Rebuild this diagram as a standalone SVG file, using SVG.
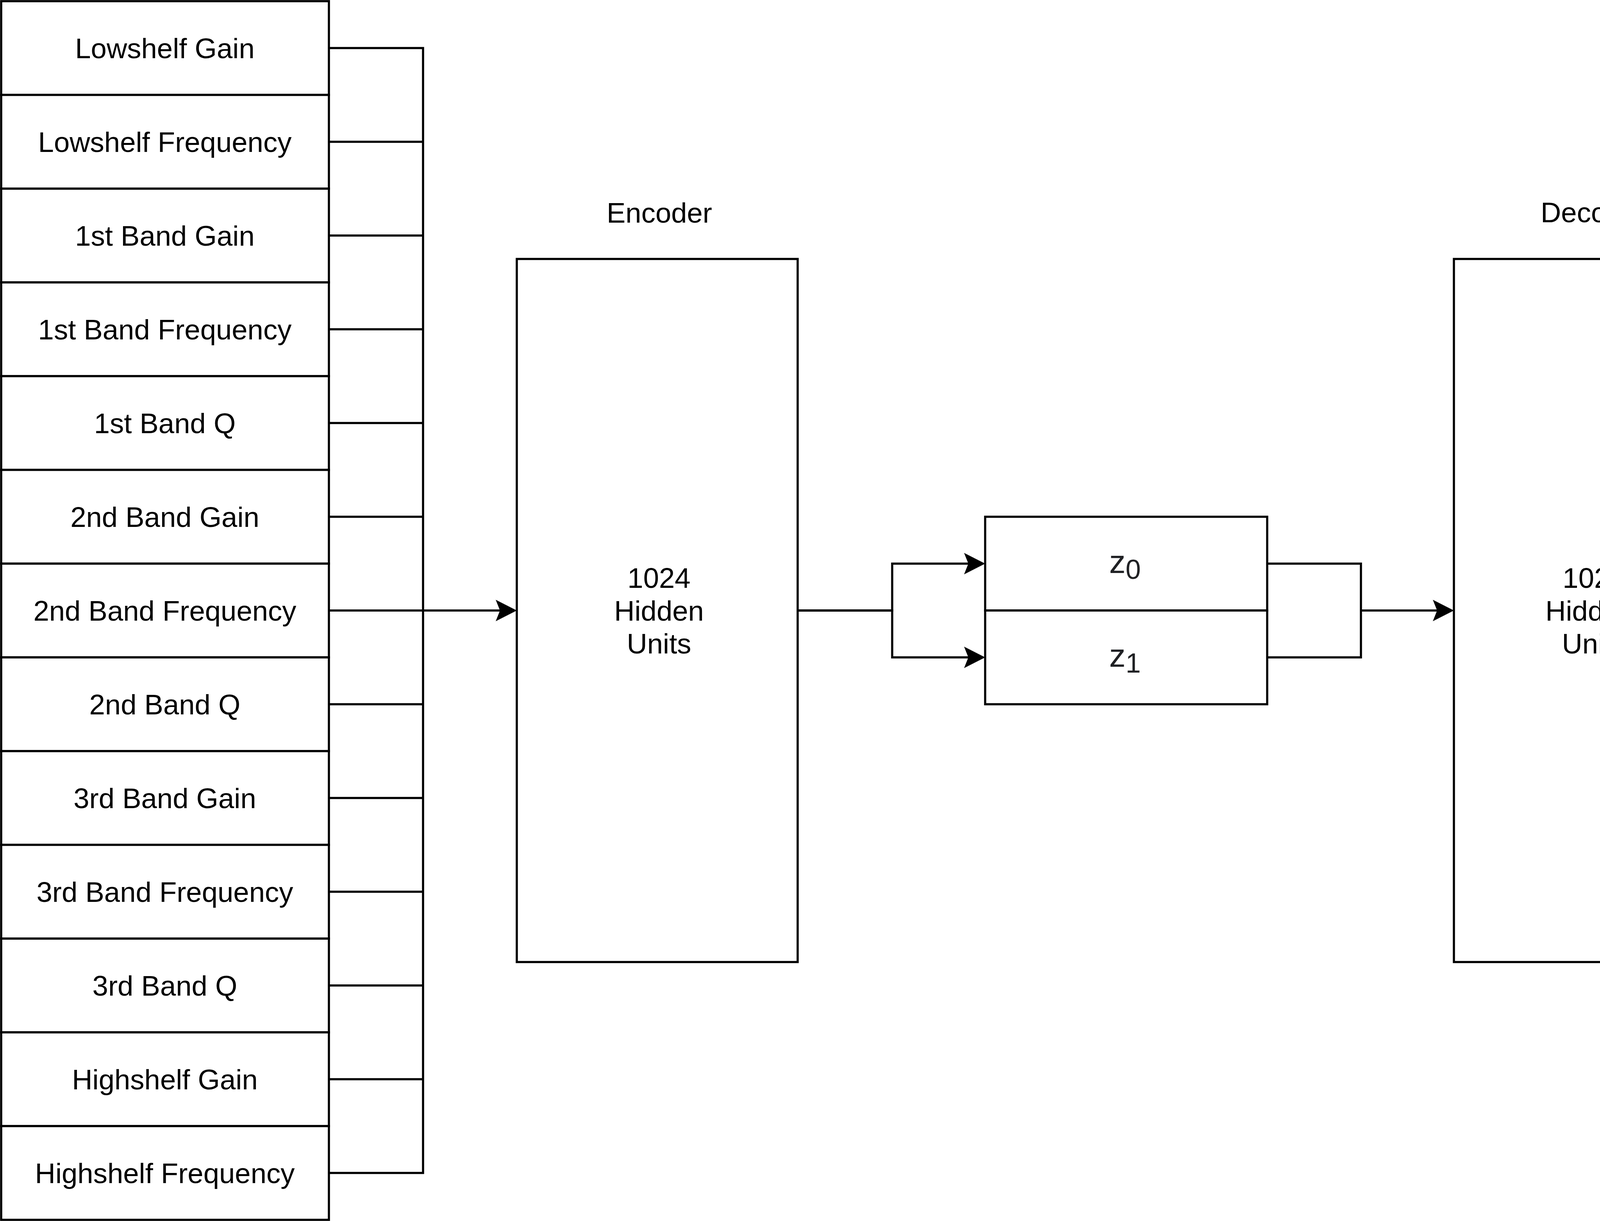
<svg xmlns="http://www.w3.org/2000/svg" width="5766" height="3126" viewBox="0 0 5766 3126">
<style>
.box{fill:#ffffff;stroke:#000000;stroke-width:5.5}
.lbl{font-family:"Liberation Sans",Arial,Helvetica,sans-serif;font-size:72.5px;fill:#000000;text-anchor:middle}
.z{font-family:"Liberation Sans",Arial,Helvetica,sans-serif;font-size:84px;fill:#202124;text-anchor:middle}
.edge{fill:none;stroke:#000000;stroke-width:5.5;stroke-linejoin:miter;marker-end:url(#arr)}
.stub{fill:none;stroke:#000000;stroke-width:5.5;stroke-linejoin:miter}
</style>
<defs>
<marker id="arr" markerUnits="userSpaceOnUse" viewBox="-12 -30 60 60" markerWidth="60" markerHeight="60" refX="0" refY="0" orient="auto" overflow="visible">
<path d="M43,0 L-11,-27.5 L0,0 L-11,27.5 Z" fill="#000000" stroke="none"/>
</marker>
</defs>
<rect x="0" y="0" width="5766" height="3126" fill="#ffffff"/>

<g id="connectors">
<path class="stub" d="M842,123 H1083 V1563"/>
<path class="stub" d="M842,363 H1083"/>
<path class="stub" d="M842,603 H1083"/>
<path class="stub" d="M842,843 H1083"/>
<path class="stub" d="M842,1083 H1083"/>
<path class="stub" d="M842,1323 H1083"/>
<path class="stub" d="M842,1803 H1083"/>
<path class="stub" d="M842,2043 H1083"/>
<path class="stub" d="M842,2283 H1083"/>
<path class="stub" d="M842,2523 H1083"/>
<path class="stub" d="M842,2763 H1083"/>
<path class="stub" d="M842,3003 H1083 V1563"/>
<path class="edge" d="M842,1563 H1280"/>

<path class="edge" d="M2042,1563 H2284 V1443 H2479"/>
<path class="edge" d="M2042,1563 H2284 V1683 H2479"/>

<path class="stub" d="M3244,1443 H3484 V1683 H3244"/>
<path class="edge" d="M3484,1563 H3679"/>

<path class="stub" d="M4443,1563 H4683"/>
<path class="stub" d="M4683,123 V3003"/>
<path class="edge" d="M4683,123 H4879"/>
<path class="edge" d="M4683,363 H4879"/>
<path class="edge" d="M4683,603 H4879"/>
<path class="edge" d="M4683,843 H4879"/>
<path class="edge" d="M4683,1083 H4879"/>
<path class="edge" d="M4683,1323 H4879"/>
<path class="edge" d="M4683,1563 H4879"/>
<path class="edge" d="M4683,1803 H4879"/>
<path class="edge" d="M4683,2043 H4879"/>
<path class="edge" d="M4683,2283 H4879"/>
<path class="edge" d="M4683,2523 H4879"/>
<path class="edge" d="M4683,2763 H4879"/>
<path class="edge" d="M4683,3003 H4879"/>
</g>

<g id="inputs">
<g id="in-lowshelf-gain"><rect class="box" x="3" y="3" width="839" height="240"/><text class="lbl" x="422" y="149">Lowshelf Gain</text></g>
<g id="in-lowshelf-frequency"><rect class="box" x="3" y="243" width="839" height="240"/><text class="lbl" x="422" y="389">Lowshelf Frequency</text></g>
<g id="in-1st-band-gain"><rect class="box" x="3" y="483" width="839" height="240"/><text class="lbl" x="422" y="629">1st Band Gain</text></g>
<g id="in-1st-band-frequency"><rect class="box" x="3" y="723" width="839" height="240"/><text class="lbl" x="422" y="869">1st Band Frequency</text></g>
<g id="in-1st-band-q"><rect class="box" x="3" y="963" width="839" height="240"/><text class="lbl" x="422" y="1109">1st Band Q</text></g>
<g id="in-2nd-band-gain"><rect class="box" x="3" y="1203" width="839" height="240"/><text class="lbl" x="422" y="1349">2nd Band Gain</text></g>
<g id="in-2nd-band-frequency"><rect class="box" x="3" y="1443" width="839" height="240"/><text class="lbl" x="422" y="1589">2nd Band Frequency</text></g>
<g id="in-2nd-band-q"><rect class="box" x="3" y="1683" width="839" height="240"/><text class="lbl" x="422" y="1829">2nd Band Q</text></g>
<g id="in-3rd-band-gain"><rect class="box" x="3" y="1923" width="839" height="240"/><text class="lbl" x="422" y="2069">3rd Band Gain</text></g>
<g id="in-3rd-band-frequency"><rect class="box" x="3" y="2163" width="839" height="240"/><text class="lbl" x="422" y="2309">3rd Band Frequency</text></g>
<g id="in-3rd-band-q"><rect class="box" x="3" y="2403" width="839" height="240"/><text class="lbl" x="422" y="2549">3rd Band Q</text></g>
<g id="in-highshelf-gain"><rect class="box" x="3" y="2643" width="839" height="240"/><text class="lbl" x="422" y="2789">Highshelf Gain</text></g>
<g id="in-highshelf-frequency"><rect class="box" x="3" y="2883" width="839" height="240"/><text class="lbl" x="422" y="3029">Highshelf Frequency</text></g>
</g>

<g id="encoder">
<text class="lbl" x="1688" y="570">Encoder</text>
<rect class="box" x="1323" y="663" width="719" height="1800"/>
<text class="lbl" x="1687" y="1505">1024</text>
<text class="lbl" x="1687" y="1589">Hidden</text>
<text class="lbl" x="1687" y="1673">Units</text>
</g>

<g id="latent">
<g id="z0"><rect class="box" x="2522" y="1323" width="722" height="240"/><text class="z" x="2880" y="1467">z<tspan font-size="70" dy="15">0</tspan></text></g>
<g id="z1"><rect class="box" x="2522" y="1563" width="722" height="240"/><text class="z" x="2880" y="1707">z<tspan font-size="70" dy="15">1</tspan></text></g>
</g>

<g id="decoder">
<text class="lbl" x="4081" y="569">Decoder</text>
<rect class="box" x="3722" y="663" width="721" height="1800"/>
<text class="lbl" x="4081" y="1505">1024</text>
<text class="lbl" x="4071" y="1589">Hidden</text>
<text class="lbl" x="4081" y="1673">Units</text>
</g>

<g id="outputs">
<g id="out-lowshelf-gain"><rect class="box" x="4922" y="3" width="840" height="240"/><text class="lbl" x="5342" y="149">Lowshelf Gain</text></g>
<g id="out-lowshelf-frequency"><rect class="box" x="4922" y="243" width="840" height="240"/><text class="lbl" x="5342" y="389">Lowshelf Frequency</text></g>
<g id="out-1st-band-gain"><rect class="box" x="4922" y="483" width="840" height="240"/><text class="lbl" x="5342" y="629">1st Band Gain</text></g>
<g id="out-1st-band-frequency"><rect class="box" x="4922" y="723" width="840" height="240"/><text class="lbl" x="5342" y="869">1st Band Frequency</text></g>
<g id="out-1st-band-q"><rect class="box" x="4922" y="963" width="840" height="240"/><text class="lbl" x="5342" y="1109">1st Band Q</text></g>
<g id="out-2nd-band-gain"><rect class="box" x="4922" y="1203" width="840" height="240"/><text class="lbl" x="5342" y="1349">2nd Band Gain</text></g>
<g id="out-2nd-band-frequency"><rect class="box" x="4922" y="1443" width="840" height="240"/><text class="lbl" x="5342" y="1589">2nd Band Frequency</text></g>
<g id="out-2nd-band-q"><rect class="box" x="4922" y="1683" width="840" height="240"/><text class="lbl" x="5342" y="1829">2nd Band Q</text></g>
<g id="out-3rd-band-gain"><rect class="box" x="4922" y="1923" width="840" height="240"/><text class="lbl" x="5342" y="2069">3rd Band Gain</text></g>
<g id="out-3rd-band-frequency"><rect class="box" x="4922" y="2163" width="840" height="240"/><text class="lbl" x="5342" y="2309">3rd Band Frequency</text></g>
<g id="out-3rd-band-q"><rect class="box" x="4922" y="2403" width="840" height="240"/><text class="lbl" x="5342" y="2549">3rd Band Q</text></g>
<g id="out-highshelf-gain"><rect class="box" x="4922" y="2643" width="840" height="240"/><text class="lbl" x="5342" y="2789">Highshelf Gain</text></g>
<g id="out-highshelf-frequency"><rect class="box" x="4922" y="2883" width="840" height="240"/><text class="lbl" x="5342" y="3029">Highshelf Frequency</text></g>
</g>
</svg>
